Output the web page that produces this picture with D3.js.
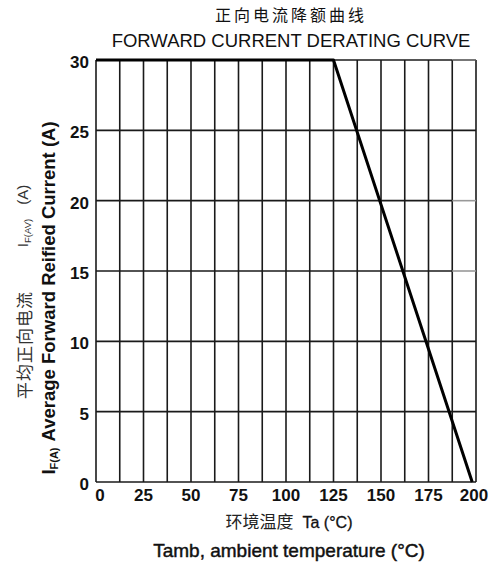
<!DOCTYPE html>
<html lang="zh">
<head>
<meta charset="UTF-8">
<title>Forward Current Derating Curve</title>
<script src="https://d3js.org/d3.v7.min.js"></script>
<style>
    body { margin: 0; background: #fff; }
    text { font-family: "Liberation Sans", Arial, sans-serif; fill: #111; }
    .cjk { font-family: "Noto Sans CJK SC", sans-serif; }
    .tick-label { font-family: "Liberation Sans Narrow", "Arial Narrow", "Liberation Sans", sans-serif; font-size: 17px; font-weight: bold; }
</style>
</head>
<body>
<div id="chart"></div>
<script>
// chart values
const tempTicks = [0, 25, 50, 75, 100, 125, 150, 175, 200];
const currentTicks = [0, 5, 10, 15, 20, 25, 30];
const gridTemps = [0, 12.5, 25, 37.5, 50, 62.5, 75, 87.5, 100, 112.5, 125, 137.5, 150, 162.5, 175, 187.5, 200];
const curveTemp = [0, 125, 198];
const curveCurrent = [30, 30, 0];

const W = 489, H = 565;
const margin = { top: 60, right: 13, bottom: 83, left: 96 };
const width = W - margin.left - margin.right;
const height = H - margin.top - margin.bottom;

const svg = d3.select("#chart").append("svg")
    .attr("width", W)
    .attr("height", H);

const g = svg.append("g")
    .attr("transform", `translate(${margin.left},${margin.top})`);

const x = d3.scaleLinear().domain([0, 200]).range([0, width]);
const y = d3.scaleLinear().domain([0, 30]).range([height, 0]);

// vertical grid
g.selectAll(".vgrid")
    .data(gridTemps)
    .enter().append("line")
    .attr("x1", d => x(d)).attr("x2", d => x(d))
    .attr("y1", 0).attr("y2", height)
    .style("stroke", "#1a1a1a")
    .style("stroke-width", 1.6);

// horizontal grid, the last column is a bit lighter in the original scan
const light = d => d === 20 || d === 15 || d === 30;

g.selectAll(".hgrid")
    .data(currentTicks)
    .enter().append("line")
    .attr("x1", 0)
    .attr("x2", d => light(d) ? x(187.5) : width)
    .attr("y1", d => y(d)).attr("y2", d => y(d))
    .style("stroke", "#1a1a1a")
    .style("stroke-width", 1.6);

g.selectAll(".hgrid-light")
    .data(currentTicks.filter(light))
    .enter().append("line")
    .attr("x1", x(187.5))
    .attr("x2", width)
    .attr("y1", d => y(d)).attr("y2", d => y(d))
    .style("stroke", d => d === 30 ? "#555" : "#999")
    .style("stroke-width", 1.6);

// derating curve
const line = d3.line()
    .x((d, i) => x(curveTemp[i]))
    .y((d, i) => y(curveCurrent[i]));

g.append("path")
    .datum(curveTemp)
    .attr("d", line)
    .style("fill", "none")
    .style("stroke", "#000")
    .style("stroke-width", 3)
    .style("stroke-linejoin", "round");

// tick labels
g.selectAll(".ylab")
    .data(currentTicks)
    .enter().append("text")
    .attr("class", "tick-label")
    .attr("x", -7)
    .attr("y", d => y(d) + 8)
    .attr("text-anchor", "end")
    .text(d => d);

g.selectAll(".xlab")
    .data(tempTicks)
    .enter().append("text")
    .attr("class", "tick-label")
    .attr("x", d => x(d) + (d === 0 ? 4 : d === 200 ? -2 : 0))
    .attr("y", height + 19)
    .attr("text-anchor", "middle")
    .text(d => d);

// titles
svg.append("text")
    .attr("class", "cjk")
    .attr("x", 291).attr("y", 21)
    .attr("text-anchor", "middle")
    .style("font-size", "16px")
    .style("letter-spacing", "3px")
    .text("正向电流降额曲线");

svg.append("text")
    .attr("x", 291).attr("y", 47)
    .attr("text-anchor", "middle")
    .style("font-size", "18.5px")
    .text("FORWARD CURRENT DERATING CURVE");

// x axis titles
const xt = svg.append("text")
    .attr("x", 289).attr("y", 528)
    .attr("text-anchor", "middle")
    .style("font-size", "16px");
xt.append("tspan").attr("class", "cjk").style("font-size", "17px").style("fill", "#222").text("环境温度");
xt.append("tspan").attr("dx", 9).style("stroke", "#111").style("stroke-width", 0.3).text("Ta (°C)");

svg.append("text")
    .attr("x", 289).attr("y", 557)
    .attr("text-anchor", "middle")
    .style("font-size", "19px")
    .style("stroke", "#111")
    .style("stroke-width", 0.45)
    .text("Tamb, ambient temperature (°C)");

// y axis titles
const yb = svg.append("text")
    .attr("transform", "translate(55,298) rotate(-90)")
    .attr("text-anchor", "middle")
    .style("font-size", "18.5px")
    .style("font-weight", "bold");
yb.append("tspan").text("I");
yb.append("tspan").attr("dy", 3).style("font-size", "11px").text("F(A)");
yb.append("tspan").attr("dy", -3).attr("dx", 6).text("Average Forward Reified Current (A)");

svg.append("text")
    .attr("class", "cjk")
    .attr("transform", "translate(31,345) rotate(-90)")
    .attr("text-anchor", "middle")
    .style("font-size", "17px")
    .style("letter-spacing", "1px")
    .style("fill", "#333")
    .text("平均正向电流");

const yi = svg.append("text")
    .attr("transform", "translate(28,216) rotate(-90)")
    .attr("text-anchor", "middle")
    .style("font-size", "15px")
    .style("fill", "#333");
yi.append("tspan").text("I");
yi.append("tspan").attr("dy", 3).style("font-size", "9.5px").text("F(AV)");
yi.append("tspan").attr("dy", -3).attr("dx", 14).text("(A)");
</script>
</body>
</html>
